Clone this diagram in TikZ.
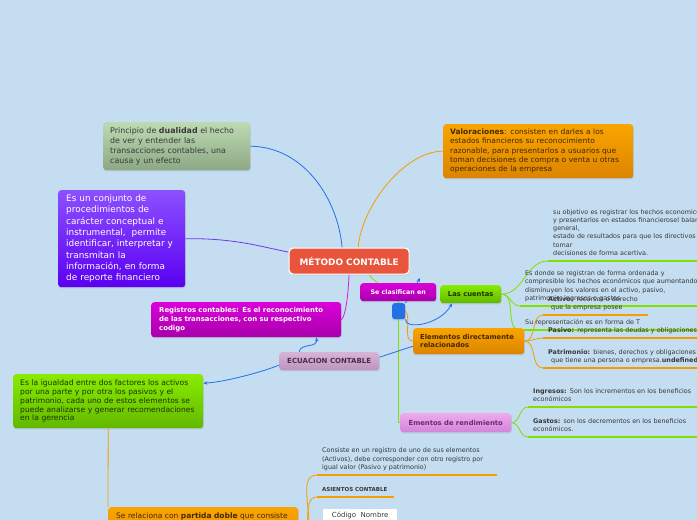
\documentclass[tikz,border=0pt]{standalone}
\usepackage{fontspec}
\setmainfont{DejaVu Sans}
\usepackage{tikz}
\usetikzlibrary{arrows.meta,backgrounds,shadows}
\definecolor{paper}{HTML}{C4DDF0}
\definecolor{tomato}{HTML}{E9543D}
\definecolor{limetop}{HTML}{88EC00}
\definecolor{limebot}{HTML}{62B800}
\definecolor{limetext}{HTML}{1E3200}
\definecolor{ambertop}{HTML}{FAA400}
\definecolor{amberbot}{HTML}{DC8400}
\definecolor{ambertext}{HTML}{432A00}
\definecolor{violettop}{HTML}{8C50FF}
\definecolor{violetbot}{HTML}{5A00F2}
\definecolor{fuchsiatop}{HTML}{DA00DA}
\definecolor{fuchsiabot}{HTML}{A800AA}
\definecolor{mauvetop}{HTML}{D7B4D7}
\definecolor{mauvebot}{HTML}{BC94BE}
\definecolor{mauvetext}{HTML}{4B2D4B}
\definecolor{orchidtop}{HTML}{EEAAEE}
\definecolor{orchidbot}{HTML}{D383DA}
\definecolor{orchidtext}{HTML}{6A2A6A}
\definecolor{sagetop}{HTML}{BEDAB4}
\definecolor{sagebot}{HTML}{8CA884}
\definecolor{wire}{HTML}{2470E6}
\definecolor{wireviolet}{HTML}{7036F0}
\definecolor{wirelime}{HTML}{80E000}
\definecolor{wireamber}{HTML}{F59C00}
\definecolor{wirefuchsia}{HTML}{CC22DD}
\definecolor{ink}{HTML}{383838}
\newcommand{\fsz}[2]{\fontsize{#1}{#2}\selectfont}
\tikzset{
  box/.style={rounded corners=3pt,anchor=north west,inner ysep=0pt,
    drop shadow={opacity=0.22,shadow xshift=0.6pt,shadow yshift=-1.2pt}},
  leaf/.style={anchor=south west,inner xsep=5pt,inner ysep=3pt,
    execute at end node=\strut,align=left,text=ink,font=\fsz{6.4}{8.2}},
  uline/.style={line width=2.4pt},
  conn/.style={line width=0.8pt},
  arrowed/.style={-{Stealth[length=4pt,width=3.4pt]}},
}

\begin{document}
\begin{tikzpicture}[x=1pt,y=-1pt]
  \useasboundingbox (0,0) rectangle (697,520);
  \clip (0,0) rectangle (697,520);
  % main topic and the boxes round it
  \node[box,rounded corners=4pt,fill=tomato,draw=white,line width=1.2pt,
        minimum width=120pt,minimum height=26pt,text=white,font=\fsz{8.9}{10}\bfseries] (metodo) at (288.5,247.5) {MÉTODO CONTABLE};
  \node[box,top color=sagetop,bottom color=sagebot,text=ink,font=\fsz{7.9}{10},
        text width=133pt,inner xsep=7pt,minimum height=48pt,align=left] (dual) at (103,122)
        {Principio de \textbf{dualidad} el hecho\\de ver y entender las\\transacciones contables, una\\causa y un efecto};
  \node[box,top color=violettop,bottom color=violetbot,text=white,font=\fsz{8.9}{11.3},
        text width=111pt,inner xsep=8pt,minimum height=97pt,align=left] (conj) at (58,190)
        {Es un conjunto de\\procedimientos de\\carácter conceptual e\\instrumental,\ \ permite\\identificar, interpretar y\\transmitan la\\información, en forma\\de reporte financiero};
  \node[box,top color=fuchsiatop,bottom color=fuchsiabot,text=white,font=\fsz{6.9}{8.8}\bfseries,
        text width=174pt,inner xsep=8pt,minimum height=35pt,align=left] (regis) at (151,302)
        {Registros contables: Es el reconocimiento\\de las transacciones, con su respectivo\\codigo};
  \node[box,top color=mauvetop,bottom color=mauvebot,text=mauvetext,font=\fsz{7}{8}\bfseries,
        minimum width=100pt,minimum height=18pt] (ecua) at (279,352) {ECUACION CONTABLE};
  \node[box,top color=limetop,bottom color=limebot,text=limetext,font=\fsz{7.6}{8.8},
        text width=176pt,inner xsep=7pt,minimum height=54pt,align=left] (igual) at (13,374)
        {Es la igualdad entre dos factores los activos\\por una parte y por otra los pasivos y el\\patrimonio, cada uno de estos elementos se\\puede analizarse y generar recomendaciones\\en la gerencia};
  \node[box,top color=ambertop,bottom color=amberbot,text=ambertext,font=\fsz{7.5}{9},
        text width=174pt,inner xsep=8pt,inner ysep=6pt,text depth=40pt,align=left] (partida) at (108,507)
        {Se relaciona con \textbf{partida doble} que consiste};
  \node[box,top color=ambertop,bottom color=amberbot,text=ambertext,font=\fsz{7.5}{9.3},
        text width=176pt,inner xsep=7pt,minimum height=54pt,align=left] (valor) at (443,124)
        {\textbf{Valoraciones}: consisten en darles a los\\estados financieros su reconocimiento\\razonable, para presentarlos a usuarios que\\toman decisiones de compra o venta u otras\\operaciones de la empresa};
  % second level
  \node[box,top color=fuchsiatop,bottom color=fuchsiabot,text=white,font=\fsz{6.3}{8}\bfseries,
        minimum width=76pt,minimum height=18pt] (clasif) at (360,283) {Se clasifican en};
  \node[box,rounded corners=2.5pt,fill=wire,minimum width=13pt,minimum height=16pt,inner sep=0pt] (hub) at (392,303) {};
  \node[box,top color=limetop,bottom color=limebot,text=limetext,font=\fsz{6.8}{8}\bfseries,
        minimum width=61pt,minimum height=18pt] (cuentas) at (440,285) {Las cuentas};
  \node[box,top color=ambertop,bottom color=amberbot,text=ambertext,font=\fsz{6.8}{8.5}\bfseries,
        text width=97pt,inner xsep=7pt,minimum height=26pt,align=left] (elem) at (413,328)
        {Elementos directamente\\relacionados};
  \node[box,top color=orchidtop,bottom color=orchidbot,text=orchidtext,font=\fsz{6.8}{8}\bfseries,
        minimum width=111pt,minimum height=19pt] (ement) at (400,413) {Ementos de rendimiento};
  \node[anchor=north west,fill=white,minimum width=74pt,inner sep=3pt,text depth=3pt,
        font=\fsz{7}{8},text=ink] (tabla) at (323,509) {Código\ \ Nombre};
  \coordinate (tblfoot) at (317,545);
  \coordinate (tipA) at (420,278);
  % leaves: text over a thick rule
  \node[leaf,text width=200pt] (obj) at (548,261)
    {su objetivo es registrar los hechos economicos\\y presentarlos en estados financierosel balance\\general,\\estado de resultados para que los directivos\\tomar\\decisiones de forma acertiva.};
  \node[leaf,text width=200pt] (donde) at (520,306)
    {Es donde se registran de forma ordenada y\\compresible los hechos económicos que aumentando\\disminuyen los valores en el activo, pasivo,\\patrimonio, ingresos o gastos};
  \node[leaf,text width=95pt] (activo) at (543,315)
    {\textbf{Activo:} recursos o derecho\\\hspace*{3pt}que la empresa posee};
  \node[leaf,text width=200pt] (repr) at (520,330) {Su representación es en forma de T};
  \node[leaf,text width=200pt] (pasivo) at (543,338) {\textbf{Pasivo:} representa las deudas y obligaciones};
  \node[leaf,text width=200pt] (patri) at (543,368)
    {\textbf{Patrimonio:} bienes, derechos y obligaciones\\\hspace*{3pt}que tiene una persona o empresa.\textbf{undefined}};
  \node[leaf,text width=200pt] (ingre) at (528,407) {\textbf{Ingresos:} Son los incrementos en los beneficios\\económicos};
  \node[leaf,text width=200pt] (gasto) at (528,437) {\textbf{Gastos:} son los decrementos en los beneficios\\económicos.};
  \node[leaf,text width=170pt] (consis) at (317,475)
    {Consiste en un registro de uno de sus elementos\\(Activos), debe corresponder con otro registro por\\igual valor (Pasivo y patrimonio)};
  \node[leaf,text width=67pt,font=\fsz{5.5}{7}\bfseries] (asient) at (317,497) {ASIENTOS CONTABLE};

  \begin{scope}[on background layer]
    \fill[paper] (0,0) rectangle (697,520);
    % branches off the main topic
    \draw[conn,wire] (dual.east) .. controls (305,147) and (338,200) .. ([xshift=-7pt]metodo.north);
    \draw[conn,wireviolet] (conj.east) .. controls (235,238) and (262,247) .. ([yshift=9pt]metodo.west);
    \draw[conn,wireamber] (valor.west) .. controls (405,151) and (362,205) .. ([xshift=9pt]metodo.north);
    \draw[conn,wirefuchsia] (metodo.south) .. controls (348,295) and (346,315) .. (regis.east);
    \draw[conn,wirelime] ([xshift=20pt]metodo.south) .. controls (375,285) and (398,290) .. (hub.north);
    \draw[conn,wirelime] (hub.south) |- (ement.west);
    \draw[conn,wireamber] (hub.east) .. controls (412,318) and (402,341) .. (elem.west);
    \draw[conn,wire,arrowed] (hub.north east) -- (tipA);
    \draw[conn,wire,arrowed] (hub.south east) .. controls (405,330) and (440,325) .. ([xshift=12pt]cuentas.south west);
    \draw[conn,wire] ([yshift=4pt]ecua.east) -- ([yshift=-5pt]elem.west);
    \draw[conn,wire,arrowed] ([xshift=-30pt]ecua.north) .. controls (300,343) and (318,348) .. ([xshift=70pt]regis.south);
    \draw[conn,wire,arrowed] ([yshift=-4pt]ecua.west) .. controls (262,372) and (225,382) .. ([yshift=18pt]igual.east);
    \draw[conn,wireamber] (igual.south) -- (partida.north west);
    % brackets to the leaves
    \foreach \n in {obj,donde,repr}
      \draw[conn,wirelime] (cuentas.east) to[out=0,in=180] (\n.south west);
    \foreach \n in {activo,pasivo,patri}
      \draw[conn,wireamber] (elem.east) to[out=0,in=180] (\n.south west);
    \foreach \n in {ingre,gasto}
      \draw[conn,wirelime] (ement.east) to[out=0,in=180] (\n.south west);
    \foreach \n in {consis,asient}
      \draw[conn,wireamber] (partida.east) to[out=0,in=180] (\n.south west);
    \draw[conn,wireamber] (partida.east) to[out=0,in=180] (tblfoot);
    % thick rules under the leaves
    \foreach \n/\c in {obj/wirelime,donde/wirelime,repr/wirelime,ingre/wirelime,gasto/wirelime,
                       activo/wireamber,pasivo/wireamber,patri/wireamber,consis/wireamber,asient/wireamber}
      \draw[uline,\c] (\n.south west) -- (\n.south east);
  \end{scope}
\end{tikzpicture}
\end{document}
